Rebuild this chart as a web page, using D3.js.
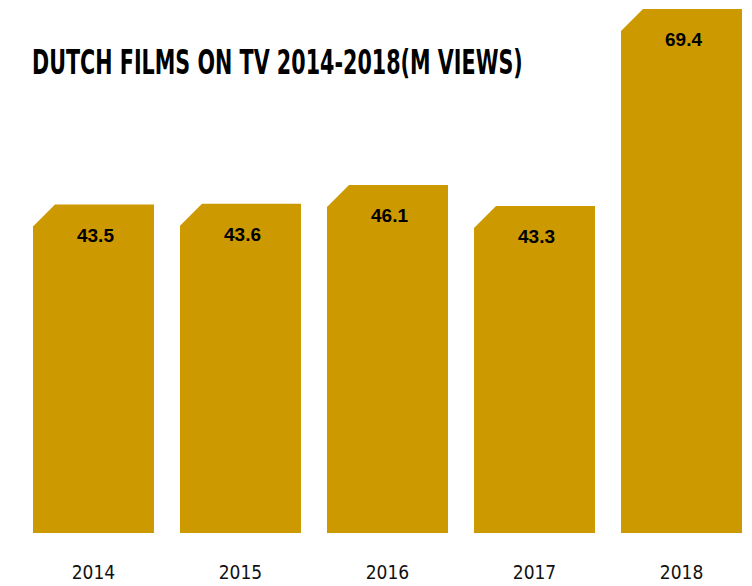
<!DOCTYPE html>
<html>
<head>
<meta charset="utf-8">
<script src="https://cdn.jsdelivr.net/npm/d3@7"></script>
<style>
  body { margin: 0; background: #fff; }
  svg { display: block; }
</style>
</head>
<body>
<div id="chart"></div>
<script>
// data
var years = ["2014", "2015", "2016", "2017", "2018"];
var views = [43.5, 43.6, 46.1, 43.3, 69.4];
var title = "DUTCH FILMS ON TV 2014-2018(M VIEWS)";

var width = 752, height = 586;
var barColor = "#cc9900";

var svg = d3.select("#chart")
    .append("svg")
    .attr("width", width)
    .attr("height", height);

// scales
var x = d3.scaleBand()
    .domain(years)
    .range([33, 742])
    .paddingInner(0.177)
    .paddingOuter(0);

var y = d3.scaleLinear()
    .domain([0, 69.4])
    .range([533, 9]);

var cut = 22; // chamfer on the top left corner

function barPath(d, i) {
    var x0 = x(years[i]), x1 = x0 + x.bandwidth();
    var top = y(d), bottom = y(0);
    return "M" + x0 + "," + bottom +
        "L" + x0 + "," + (top + cut) +
        "L" + (x0 + cut) + "," + top +
        "L" + x1 + "," + top +
        "L" + x1 + "," + bottom + "Z";
}

svg.append("g")
    .selectAll("path")
    .data(views)
    .enter()
    .append("path")
    .attr("d", barPath)
    .attr("fill", barColor);

// value labels inside bars
svg.append("g")
    .selectAll("text")
    .data(views)
    .enter()
    .append("text")
    .attr("x", (d, i) => x(years[i]) + x.bandwidth() / 2 + 2)
    .attr("y", d => y(d) + 37)
    .attr("text-anchor", "middle")
    .attr("font-family", "'Liberation Sans', Arial, sans-serif")
    .attr("font-weight", "bold")
    .attr("font-size", 19)
    .attr("fill", "#000")
    .text(d => d.toFixed(1));

// year labels
var xAxis = d3.axisBottom(x).tickSize(0).tickPadding(0);
var axisG = svg.append("g")
    .attr("transform", "translate(0,533)")
    .call(xAxis);
axisG.select(".domain").remove();
axisG.selectAll("text")
    .attr("dy", 0)
    .attr("y", 46)
    .attr("font-family", "'Liberation Sans Narrow', 'DejaVu Sans Condensed', sans-serif")
    .attr("font-size", 19)
    .attr("fill", "#111");

// title - squeeze horizontally to fit the narrow heading
var titleText = svg.append("text")
    .attr("x", 0)
    .attr("y", 0)
    .attr("font-family", "'Liberation Sans Narrow', 'DejaVu Sans Condensed', sans-serif")
    .attr("font-weight", "bold")
    .attr("font-size", 34)
    .attr("fill", "#000")
    .text(title);
var natural = titleText.node().getComputedTextLength();
titleText.attr("transform", "translate(32,74) scale(" + (491 / natural) + ",1)");
</script>
</body>
</html>
